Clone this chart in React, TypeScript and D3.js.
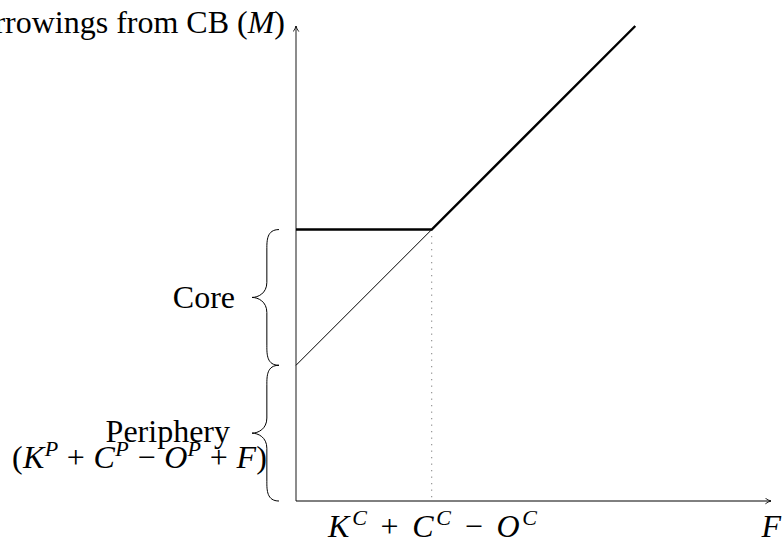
import * as d3 from "d3";

const W = 783;
const H = 542;

// model in abstract units: F on x, M on y
const threshold = 1; // K^C + C^C - O^C
const periphery = 1; // periphery borrowing level
const core = 1; // core band height
const fMax = 2.5;
const axisMax = 3.5;

const thinF = [0, threshold];
const thickF = [0, threshold, fMax];

const borrow = (f: number) => Math.max(periphery + core, periphery + f);

const x = d3.scaleLinear().domain([0, axisMax]).range([296, 771]);
const y = d3.scaleLinear().domain([0, axisMax]).range([501, 26]);

const line = d3
  .line<[number, number]>()
  .x((d) => x(d[0]))
  .y((d) => y(d[1]));

const serif = "'Liberation Serif', 'Times New Roman', serif";

// curly brace, opening to the right, from y0 to y1 at tip x
function brace(xTip: number, y0: number, y1: number, amp: number) {
  const mid = (y0 + y1) / 2;
  const xb = xTip - amp * 0.45;
  const xm = xTip - amp;
  const q = amp * 0.4;
  return [
    `M${xTip},${y0}`,
    `C${xb},${y0} ${xb},${y0 + q} ${xb},${y0 + q * 1.8}`,
    `L${xb},${mid - q * 1.4}`,
    `C${xb},${mid - 4} ${xm + 6},${mid} ${xm},${mid}`,
    `C${xm + 6},${mid} ${xb},${mid + 4} ${xb},${mid + q * 1.4}`,
    `L${xb},${y1 - q * 1.8}`,
    `C${xb},${y1 - q} ${xb},${y1} ${xTip},${y1}`,
  ].join(" ");
}

const I = ({ children }: { children: string }) => (
  <tspan fontStyle="italic">{children}</tspan>
);
const Sup = ({ children }: { children: string }) => (
  <tspan fontSize={22} baselineShift={12} fontStyle="italic">
    {children}
  </tspan>
);

export default function App() {
  const thinPts = thinF.map((f) => [f, periphery + f] as [number, number]);
  const thickPts = thickF.map((f) => [f, borrow(f)] as [number, number]);
  const braceTip = x(0) - 17;

  return (
    <svg width={W} height={H} style={{ position: "absolute", left: 0, top: 0 }}>
      <defs>
        <marker
          id="arr"
          viewBox="0 0 10 10"
          refX={9}
          refY={5}
          markerWidth={7}
          markerHeight={7}
          orient="auto"
          markerUnits="userSpaceOnUse"
        >
          <path d="M1,1 Q5,4 9,5 Q5,6 1,9" fill="none" stroke="#000" strokeWidth={1.2} />
        </marker>
      </defs>

      {/* axes */}
      <line
        x1={x(0)}
        x2={x(0)}
        y1={y(0)}
        y2={y(axisMax)}
        stroke="#666"
        strokeWidth={1.5}
        markerEnd="url(#arr)"
      />
      <line
        x1={x(0)}
        x2={x(axisMax)}
        y1={y(0)}
        y2={y(0)}
        stroke="#000"
        strokeWidth={1}
        markerEnd="url(#arr)"
      />

      {/* dotted drop at threshold */}
      <line
        x1={x(threshold)}
        x2={x(threshold)}
        y1={y(borrow(threshold))}
        y2={y(0)}
        stroke="#777"
        strokeWidth={1}
        strokeDasharray="1.2 5.3"
      />

      <path d={line(thinPts) ?? ""} fill="none" stroke="#000" strokeWidth={1} />
      <path d={line(thickPts) ?? ""} fill="none" stroke="#000" strokeWidth={2.4} />

      {/* braces */}
      <path
        d={brace(braceTip, y(periphery + core), y(periphery), 27)}
        fill="none"
        stroke="#000"
        strokeWidth={1}
      />
      <path
        d={brace(braceTip, y(periphery), y(0), 27)}
        fill="none"
        stroke="#000"
        strokeWidth={1}
      />

      <g fontFamily={serif} fontSize={32} fill="#000">
        <text x={285} y={33} textAnchor="end">
          Borrowings from CB (<I>M</I>)
        </text>
        <text x={235} y={y(periphery + core / 2) + 11} textAnchor="end">
          Core
        </text>
        <text x={230} y={442} textAnchor="end">
          Periphery
        </text>
        <text x={12} y={468} textLength={255} lengthAdjust="spacing">
          (<I>K</I>
          <Sup>P</Sup>
          {" + "}
          <I>C</I>
          <Sup>P</Sup>
          {" − "}
          <I>O</I>
          <Sup>P</Sup>
          {" + "}
          <I>F</I>)
        </text>
        <text x={328} y={537} textLength={209} lengthAdjust="spacing">
          <I>K</I>
          <Sup>C</Sup>
          {" + "}
          <I>C</I>
          <Sup>C</Sup>
          {" − "}
          <I>O</I>
          <Sup>C</Sup>
        </text>
        <text x={781} y={537} textAnchor="end" fontStyle="italic">
          F
        </text>
      </g>
    </svg>
  );
}
